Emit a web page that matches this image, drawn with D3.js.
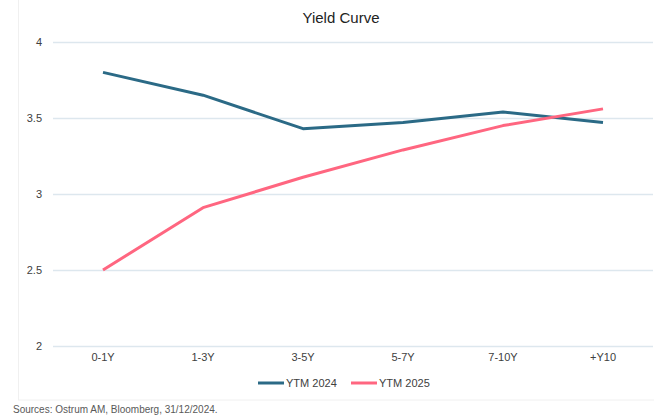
<!DOCTYPE html>
<html>
<head>
<meta charset="utf-8">
<script src="https://cdn.jsdelivr.net/npm/d3@7"></script>
<style>
  body { margin: 0; background: #fff; }
  text { font-family: "Liberation Sans", Arial, sans-serif; }
</style>
</head>
<body>
<div id="root"></div>
<script>
// data
var categories = ["0-1Y", "1-3Y", "3-5Y", "5-7Y", "7-10Y", "+Y10"];
var ytm2024 = [3.80, 3.65, 3.43, 3.47, 3.54, 3.47];
var ytm2025 = [2.50, 2.91, 3.11, 3.29, 3.45, 3.56];
var yTicks = [2, 2.5, 3, 3.5, 4];
var seriesNames = ["YTM 2024", "YTM 2025"];

var W = 654, H = 417;
var margin = {top: 42, right: 1, bottom: 71, left: 53},
    width = W - margin.left - margin.right,
    height = H - margin.top - margin.bottom;

var svg = d3.select("#root")
            .append("svg")
            .attr("width", W)
            .attr("height", H);

// faint chart frame
svg.append("rect")
  .attr("x", 18.5).attr("y", -2)
  .attr("width", W).attr("height", 402)
  .attr("fill", "none")
  .attr("stroke", "#f0f0f0");

// title
svg.append("text")
  .attr("x", 341).attr("y", 23)
  .attr("text-anchor", "middle")
  .attr("font-size", 15)
  .attr("fill", "#222")
  .text("Yield Curve");

var g = svg.append("g")
  .attr("transform", "translate(" + margin.left + "," + margin.top + ")");

var x = d3.scaleBand()
  .domain(categories)
  .range([0, width]);

var y = d3.scaleLinear()
  .domain([2, 4])
  .range([height, 0]);

// gridlines + y labels
var yAxis = g.append("g")
  .call(d3.axisLeft(y).tickValues(yTicks).tickSize(-width).tickPadding(11)
    .tickFormat(function(d) { return d; }));
yAxis.select(".domain").remove();
yAxis.selectAll("line").attr("stroke", "#dde7ee").attr("stroke-width", 1.3);
yAxis.selectAll("text").attr("font-size", 11).attr("fill", "#404040")
  .attr("font-family", "Liberation Sans, Arial, sans-serif");

// x labels
var xAxis = g.append("g")
  .attr("transform", "translate(0," + height + ")")
  .call(d3.axisBottom(x).tickSize(0).tickPadding(7));
xAxis.select(".domain").remove();
xAxis.selectAll("text").attr("font-size", 11).attr("fill", "#404040")
  .attr("font-family", "Liberation Sans, Arial, sans-serif");

var colors = ["#2b6a86", "#ff6680"];
var line = d3.line()
  .x(function(d, i) { return x(categories[i]) + x.bandwidth() / 2; })
  .y(function(d) { return y(d); });

[ytm2024, ytm2025].forEach(function(s, k) {
  g.append("path")
    .datum(s)
    .attr("fill", "none")
    .attr("stroke", colors[k])
    .attr("stroke-width", 3)
    .attr("stroke-linejoin", "round")
    .attr("d", line);
});

// legend
var legendX = [258, 351];
seriesNames.forEach(function(name, k) {
  var lg = svg.append("g").attr("transform", "translate(" + legendX[k] + ",383)");
  lg.append("line")
    .attr("x1", 0).attr("x2", 26)
    .attr("stroke", colors[k]).attr("stroke-width", 3);
  lg.append("text")
    .attr("x", 28).attr("y", 4)
    .attr("font-size", 11)
    .attr("fill", "#404040")
    .text(name);
});

// source
svg.append("text")
  .attr("x", 13).attr("y", 413)
  .attr("font-size", 10)
  .attr("fill", "#595959")
  .text("Sources: Ostrum AM, Bloomberg, 31/12/2024.");
</script>
</body>
</html>
